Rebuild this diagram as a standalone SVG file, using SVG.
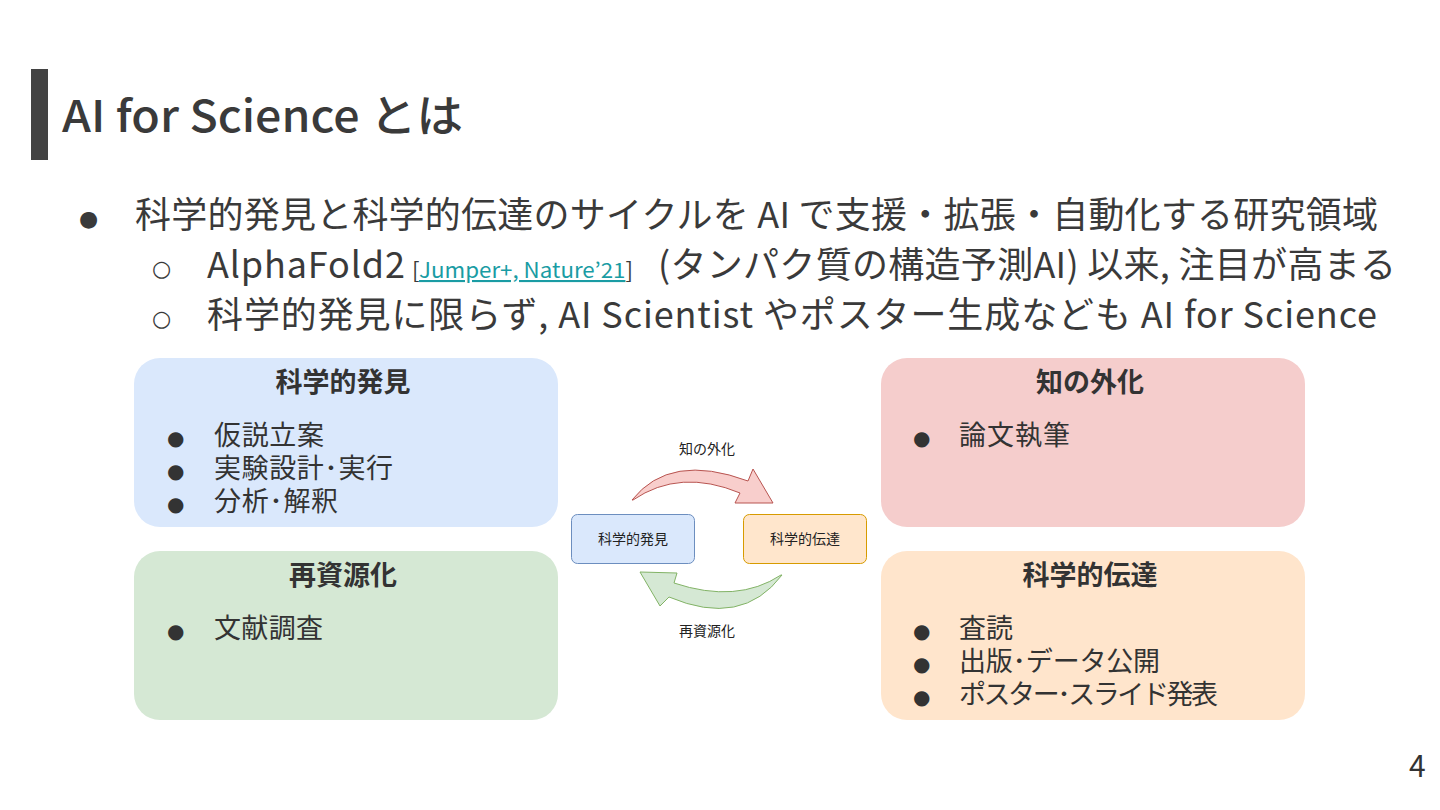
<svg xmlns="http://www.w3.org/2000/svg" width="1440" height="810" viewBox="0 0 1440 810">
<style>
text{font-family:"Noto Sans CJK JP","Noto Sans",sans-serif;fill:#3a3a3a}
.title{font-size:44px;font-weight:500}
.l1{font-size:36px}
.bul{font-family:"DejaVu Sans",sans-serif;font-size:22px}
.cite{font-size:21px}
.link{fill:#1a9ca4;text-decoration:underline}
.bh{font-family:"Liberation Sans","Noto Sans CJK JP",sans-serif;font-size:27px;font-weight:700;text-anchor:middle;fill:#333}
.bi{font-family:"Liberation Sans","Noto Sans CJK JP",sans-serif;font-size:27px;fill:#333}
.bd{font-family:"DejaVu Sans",sans-serif;font-size:20px;fill:#333}
.sm{font-size:14px;text-anchor:middle;fill:#222}
</style>
<rect x="0" y="0" width="1440" height="810" fill="#ffffff"/>
<rect x="31" y="69" width="17" height="91" fill="#434343"/>
<text class="title" x="62" y="132" textLength="401" lengthAdjust="spacingAndGlyphs">AI for Science とは</text>

<text class="bul" x="79" y="226">●</text>
<text class="l1" x="135" y="228" textLength="1243">科学的発見と科学的伝達のサイクルを AI で支援・拡張・自動化する研究領域</text>
<text class="bul" x="152" y="276">○</text>
<text class="l1" x="207" y="278" textLength="198">AlphaFold2</text>
<text class="cite" x="412" y="278" textLength="221" lengthAdjust="spacingAndGlyphs">[<tspan class="link">Jumper+, Nature’21</tspan>]</text>
<text class="l1" x="658" y="278" textLength="738">(タンパク質の構造予測AI) 以来, 注目が高まる</text>
<text class="bul" x="152" y="326">○</text>
<text class="l1" x="207" y="328" textLength="1170">科学的発見に限らず, AI Scientist やポスター生成なども AI for Science</text>

<g id="box-discovery">
<rect x="134" y="358" width="424" height="169" rx="26" fill="#dae8fc"/>
<text class="bh" x="343" y="392">科学的発見</text>
<text class="bd" x="167" y="445">●</text><text class="bi" x="214" y="445" textLength="110">仮説立案</text>
<text class="bd" x="167" y="478">●</text><text class="bi" x="214" y="478" textLength="179">実験設計･実行</text>
<text class="bd" x="167" y="511">●</text><text class="bi" x="214" y="511" textLength="124">分析･解釈</text>
</g>
<g id="box-externalization">
<rect x="881" y="358" width="424" height="169" rx="26" fill="#f5cdcc"/>
<text class="bh" x="1090" y="392">知の外化</text>
<text class="bd" x="913" y="445">●</text><text class="bi" x="959" y="445" textLength="111">論文執筆</text>
</g>
<g id="box-reresource">
<rect x="134" y="551" width="424" height="169" rx="26" fill="#d5e8d4"/>
<text class="bh" x="343" y="585">再資源化</text>
<text class="bd" x="167" y="638">●</text><text class="bi" x="214" y="638" textLength="109">文献調査</text>
</g>
<g id="box-communication">
<rect x="881" y="551" width="424" height="169" rx="26" fill="#ffe5cc"/>
<text class="bh" x="1090" y="585">科学的伝達</text>
<text class="bd" x="913" y="638">●</text><text class="bi" x="959" y="638" textLength="54">査読</text>
<text class="bd" x="913" y="671">●</text><text class="bi" x="959" y="671" textLength="201">出版･データ公開</text>
<text class="bd" x="913" y="704">●</text><text class="bi" x="959" y="704" textLength="259">ポスター･スライド発表</text>
</g>

<g id="node-discovery">
<rect x="571.5" y="514.5" width="123" height="49" rx="6" fill="#dae8fc" stroke="#6c8ebf"/>
<text class="sm" x="633" y="544">科学的発見</text>
</g>
<g id="node-communication">
<rect x="743.5" y="514.5" width="123" height="49" rx="6" fill="#ffe6cc" stroke="#d79b00"/>
<text class="sm" x="805" y="544">科学的伝達</text>
</g>
<g id="connectors">
<path d="M632,500 Q670,452 748,481 L753,469 L773,503 L735,503 L740,493 Q680,468 633,500 Z" fill="#f8cecc" stroke="#b85450" stroke-width="1" stroke-linejoin="round"/>
<path d="M782,575 Q742,628 669,597 L660,606 L640,572 L677,573 L674,583 Q737,604 781,575 Z" fill="#d5e8d4" stroke="#82b366" stroke-width="1" stroke-linejoin="round"/>
<text class="sm" x="707" y="454">知の外化</text>
<text class="sm" x="707" y="636">再資源化</text>
</g>
<text x="1409" y="777" style="font-size:30px;fill:#333">4</text>
</svg>
